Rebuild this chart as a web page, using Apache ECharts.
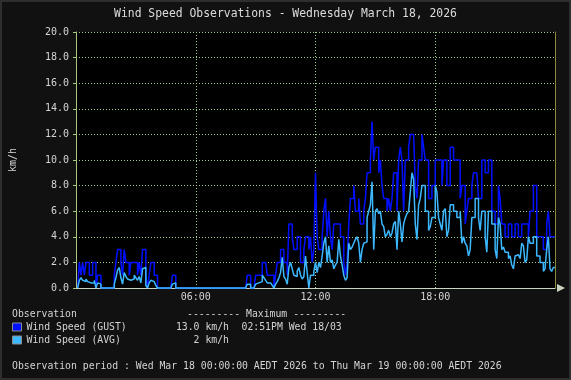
<!DOCTYPE html>
<html>
<head>
<meta charset="utf-8">
<script src="https://cdn.jsdelivr.net/npm/echarts@6/dist/echarts.min.js"></script>
<style>
html,body{margin:0;padding:0;background:#111;}
#wrap{position:relative;width:571px;height:380px;}
#chart{width:571px;height:380px;}
#frame{position:absolute;left:0;top:0;width:567px;height:376px;border:2px solid #2e2e2e;pointer-events:none;}
</style>
</head>
<body>
<div id="wrap"><div id="chart"></div><div id="frame"></div></div>
<script>
// ---- data (5-minute samples, 00:05 .. 24:00) ----
const TITLE = 'Wind Speed Observations - Wednesday March 18, 2026';
const SERIES_NAMES = ['Wind Speed (GUST)', 'Wind Speed (AVG)'];
const STEP_MIN = 5;
const X_TICK_LABELS = ['00:00', '06:00', '12:00', '18:00', '24:00'];
const GUST = [
  0,0,2,1,2,1,2,2,1,1,2,2,0,1,1,0,
  0,0,0,0,0,0,0,
  1,2,3,3,2,1,3,2,2,1,2,2,2,2,1,2,1,3,3,1,0,1,2,2,1,1,
  0,0,0,0,0,0,0,0,0,
  1,1,
  0,0,0,0,0,0,0,0,0,0,0,0,0,0,0,0,0,0,0,0,0,0,0,0,0,0,0,0,0,0,0,0,0,0,0,0,0,0,0,0,0,0,0,
  1,1,
  0,0,0,
  1,1,1,1,2,2,2,1,1,1,
  1,0,1,
  2,2,3,3,2,2,1,5,5,4,
  3,3,4,4,2,2,3,4,4,3,
  4,2,3,9,4,3,3,4,6,7,
  4,6,4,3,5,5,5,5,4,4,
  2,1,2,5,7,7,8,6,6,7,
  5,5,6,7,9,9,10,13,10,11,
  11,9,10,8,7,7,6,7,6,7,
  9,9,6,10,11,10,6,10,10,11,
  12,12,12,8,7,10,10,12,11,10,
  10,7,7,8,8,10,10,10,10,8,
  10,10,8,8,11,11,10,10,10,10,
  7,8,8,5,6,7,7,8,9,9,
  9,7,7,10,10,9,9,10,10,6,
  6,5,5,8,7,5,5,4,4,5,
  5,4,4,5,5,4,4,5,5,5,
  5,4,6,6,8,8,4,4,4,4,
  3,3,5,6,4,4,4
];
const AVG = [
  0,0,0.6,0.8,0.6,0.5,0.7,0.5,0.4,0.4,0.4,0.6,0,0.4,0.3,0,
  0,0,0,0,0,0,0,
  0.3,0.8,1.4,1.6,0.8,0.3,1.2,0.9,0.7,0.6,0.5,0.7,1.0,0.8,0.6,0.9,0.4,1.5,1.6,0.2,0,0.4,0.6,0.5,0.4,0.2,
  0,0,0,0,0,0,0,0,0,
  0.3,0.4,
  0,0,0,0,0,0,0,0,0,0,0,0,0,0,0,0,0,0,0,0,0,0,0,0,0,0,0,0,0,0,0,0,0,0,0,0,0,0,0,0,0,0,0,
  0.3,0.3,
  0,0,0,
  0.3,0.4,0.4,0.5,1.0,0.8,0.6,0.4,0.4,0.3,
  0.2,0,0.3,
  0.5,0.8,1.2,2.4,0.9,0.7,0.3,1.6,2.0,1.5,
  1.0,0.9,1.3,1.6,1.0,0.7,0.9,2.5,1.2,0,
  1.0,1.0,1.3,2.0,1.2,2.0,1.6,2.5,3.5,4.0,
  2.0,3.3,2.0,2.2,1.5,1.8,2.0,3.8,2.5,1.8,
  1.0,0.6,0.8,3.5,3.0,3.2,3.5,3.8,4.0,3.5,
  2.0,3.0,3.5,3.6,5.5,6.0,6.5,8.3,3.0,6.0,
  6.2,5.8,6.0,5.0,4.8,4.0,4.2,4.5,4.0,4.3,
  5.0,5.2,3.0,6.0,5.0,3.6,5.0,5.5,5.8,6.0,
  7.5,9.0,8.5,5.0,3.8,6.5,7.0,8.0,8.0,6.0,
  6.0,4.5,4.8,5.5,5.5,8.0,7.5,5.5,5.0,4.5,
  6.0,6.2,4.0,4.5,6.5,6.5,6.0,6.0,5.5,5.5,
  6.0,3.5,4.0,3.5,3.3,2.5,3.0,5.5,5.5,7.0,
  7.0,5.5,4.5,6.0,6.0,4.0,2.8,6.0,6.0,5.0,
  5.0,3.0,2.3,5.5,5.0,3.0,3.2,2.8,2.8,2.3,
  2.5,1.8,1.5,2.5,2.6,2.5,2.3,3.5,3.3,2.0,
  2.2,4.0,3.5,3.5,4.0,4.0,2.5,2.5,2.0,2.0,
  1.3,1.5,3.0,4.0,1.5,1.3,1.6
];
const MAX_TEXT = ['13.0 km/h', '2 km/h'];
const MAX_TIME_TEXT = ['02:51PM Wed 18/03', ''];
const PERIOD_TEXT = 'Observation period : Wed Mar 18 00:00:00 AEDT 2026 to Thu Mar 19 00:00:00 AEDT 2026';

// ---- chart ----
const FONT = '"DejaVu Sans Mono", monospace';
const TXT = '#d4d4d4';
const GRID_C = '#9fcf8f';
const AXIS_C = '#a6c880';
const COLORS = ['#0010ff', '#3cb8ff'];

const toPairs = arr => arr.map((v, i) => [(i + 1) * STEP_MIN, v]);

const chart = echarts.init(document.getElementById('chart'), null, {renderer: 'canvas'});
const legendFont = '9.8px ' + FONT;
chart.setOption({
  backgroundColor: '#111111',
  animation: false,
  title: {
    text: TITLE, left: 'center', top: 9, padding: 0,
    textStyle: {color: '#dcdcdc', fontSize: 11.4, fontWeight: 'normal', fontFamily: FONT}
  },
  grid: {left: 75, right: 16, top: 32, bottom: 92, show: true, backgroundColor: '#000', borderWidth: 0},
  xAxis: [{
    type: 'value', min: 0, max: 1440, interval: 360,
    axisLine: {show: true, onZero: false, lineStyle: {color: '#c8d4c0', width: 1},
      symbol: ['none', 'triangle'], symbolSize: [8, 8], symbolOffset: [0, 6]},
    axisTick: {show: false},
    axisLabel: {color: TXT, fontSize: 10, fontFamily: FONT, margin: 4,
      showMinLabel: false, showMaxLabel: false,
      formatter: v => X_TICK_LABELS[Math.round(v / 360)]},
    splitLine: {show: true, lineStyle: {color: GRID_C, type: [1, 2], width: 1}}
  }],
  yAxis: [{
    type: 'value', min: 0, max: 20, interval: 2,
    axisLine: {show: true, lineStyle: {color: AXIS_C}},
    axisTick: {show: true, length: 3, lineStyle: {color: AXIS_C}},
    axisLabel: {color: TXT, fontSize: 10, fontFamily: FONT, margin: 7, formatter: v => v.toFixed(1)},
    splitLine: {show: true, lineStyle: {color: GRID_C, type: [1, 2], width: 1}},
    name: 'km/h', nameLocation: 'middle', nameGap: 58,
    nameTextStyle: {color: TXT, fontSize: 10, fontFamily: FONT}
  }, {
    type: 'value', min: 0, max: 20, interval: 2, position: 'right',
    axisLine: {show: true, lineStyle: {color: '#8a8a38'}},
    axisTick: {show: false}, axisLabel: {show: false}, splitLine: {show: false}
  }],
  legend: {
    data: SERIES_NAMES, orient: 'vertical', left: 12, top: 322, padding: 0,
    itemWidth: 9, itemHeight: 8, itemGap: 3, icon: 'rect', selectedMode: false,
    itemStyle: {borderColor: '#8c8c8c', borderWidth: 1},
    textStyle: {color: TXT, fontSize: 9.8, fontFamily: FONT, lineHeight: 10, padding: [0, 0, 0, 0]}
  },
  graphic: [
    {type: 'text', x: 12, y: 314.7, style: {text: 'Observation', fill: TXT, font: legendFont, verticalAlign: 'middle'}},
    {type: 'text', x: 187, y: 314.7, style: {text: '--------- Maximum ---------', fill: TXT, font: legendFont, verticalAlign: 'middle'}},
    {type: 'text', x: 229, y: 327.3, style: {text: MAX_TEXT[0], fill: TXT, font: legendFont, align: 'right', verticalAlign: 'middle'}},
    {type: 'text', x: 241.5, y: 327.3, style: {text: MAX_TIME_TEXT[0], fill: TXT, font: legendFont, verticalAlign: 'middle'}},
    {type: 'text', x: 229, y: 340.3, style: {text: MAX_TEXT[1], fill: TXT, font: legendFont, align: 'right', verticalAlign: 'middle'}},
    {type: 'text', x: 12, y: 366.3, style: {text: PERIOD_TEXT, fill: TXT, font: legendFont, verticalAlign: 'middle'}}
  ],
  series: [{
    name: SERIES_NAMES[0], type: 'line', step: 'start', showSymbol: false, clip: false,
    data: toPairs(GUST), color: COLORS[0], lineStyle: {width: 1.5, color: COLORS[0]}, z: 3
  }, {
    name: SERIES_NAMES[1], type: 'line', step: 'start', showSymbol: false, clip: false,
    data: toPairs(AVG), color: COLORS[1], lineStyle: {width: 1.5, color: COLORS[1]}, z: 4
  }]
});
</script>
</body>
</html>
